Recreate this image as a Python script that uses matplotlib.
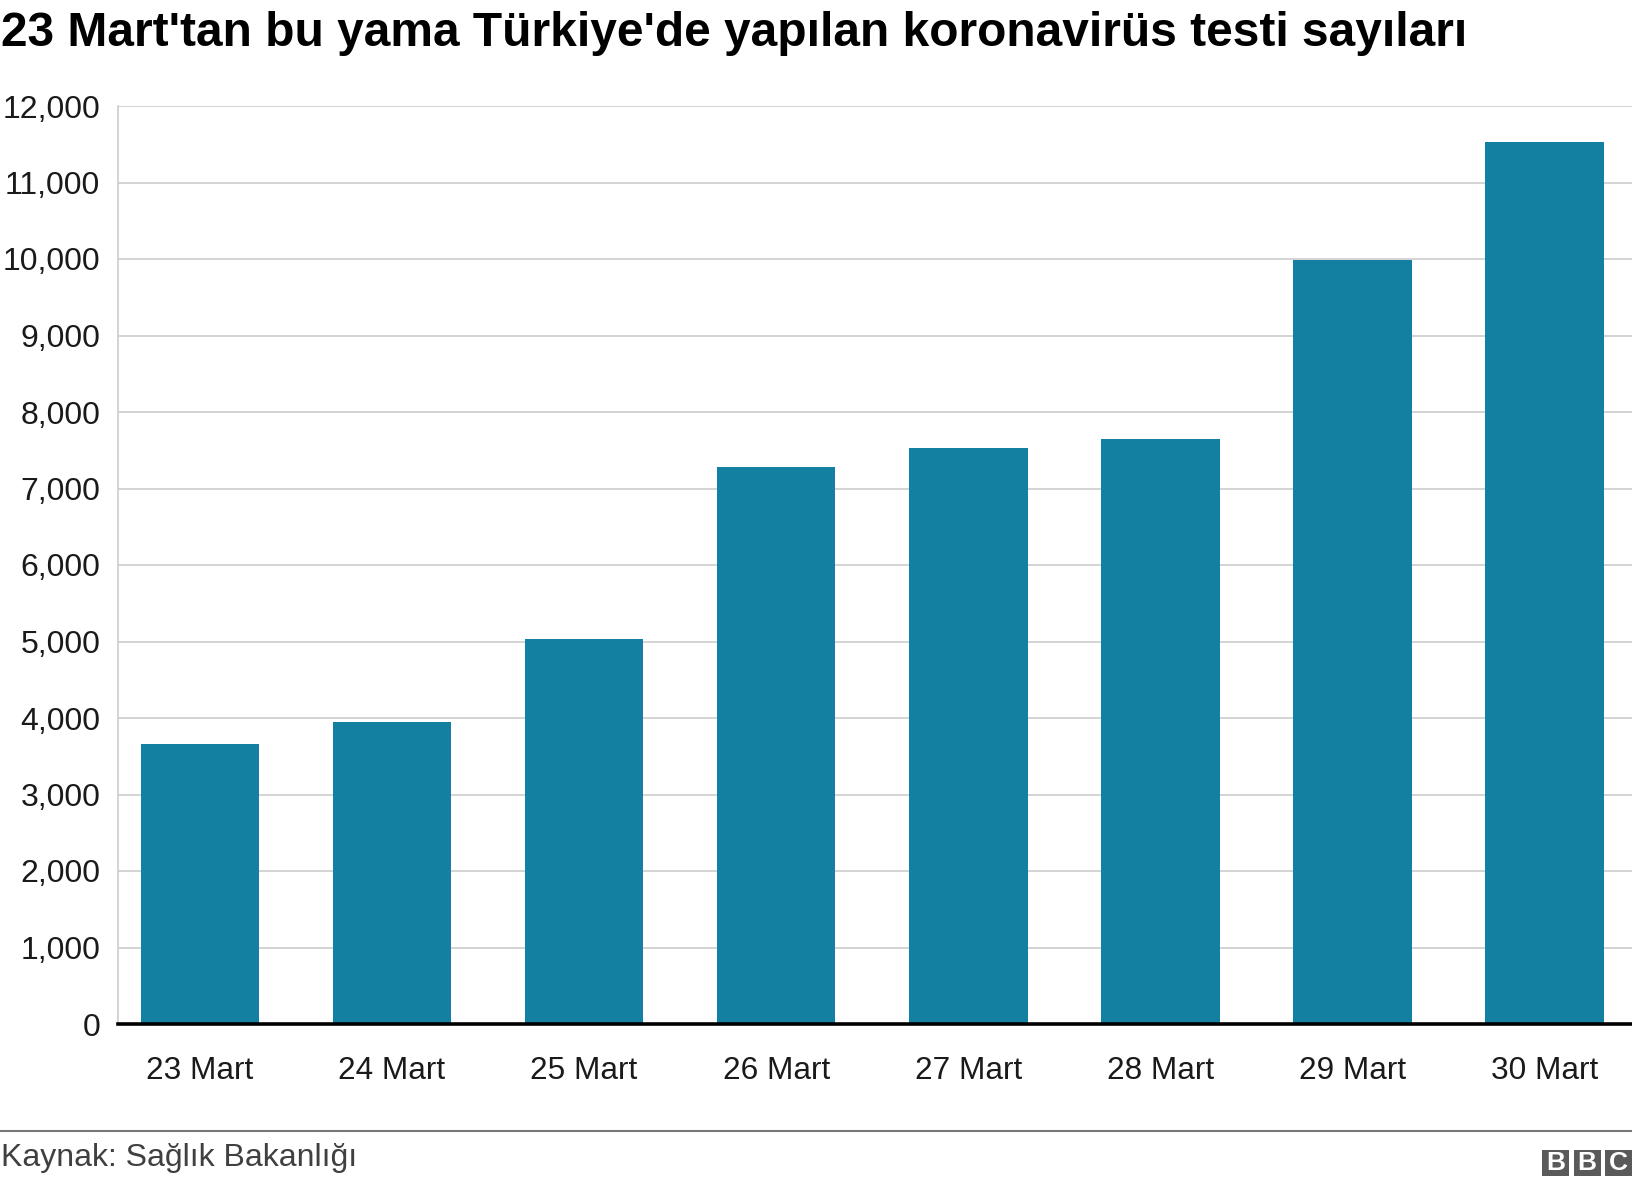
import matplotlib.pyplot as plt
from matplotlib.patches import Rectangle
from matplotlib.lines import Line2D
from matplotlib.ticker import FuncFormatter

# 23-30 Mart test sayıları
days = ["23 Mart", "24 Mart", "25 Mart", "26 Mart", "27 Mart", "28 Mart", "29 Mart", "30 Mart"]
tests = [3656, 3952, 5035, 7286, 7533, 7641, 9982, 11535]
yticks = [0, 1000, 2000, 3000, 4000, 5000, 6000, 7000, 8000, 9000, 10000, 11000, 12000]

title = "23 Mart'tan bu yama Türkiye'de yapılan koronavirüs testi sayıları"
source = "Kaynak: Sağlık Bakanlığı"

W, H = 1632, 1186
plt.rcParams['font.family'] = ['Liberation Sans', 'DejaVu Sans']

fig = plt.figure(figsize=(W / 100, H / 100), dpi=100)
ax = fig.add_axes([117.6 / W, 1 - 1024 / H, 1 - 117.6 / W, (1024 - 106) / H])

x = list(range(len(days)))
ax.bar(x, tests, width=0.617, color="#1380A1", zorder=2)

ax.set_ylim(0, 12000)
ax.set_xlim(-0.428, 7.455)
ax.set_yticks(yticks)
ax.yaxis.set_major_formatter(FuncFormatter(lambda v, p: f"{int(v):,}"))
ax.set_xticks(x)
ax.set_xticklabels(days)

size = 23
ax.tick_params(axis='y', length=0, pad=12.5, labelsize=size, labelcolor="#1a1a1a")
ax.tick_params(axis='x', length=0, pad=23, labelsize=22.7, labelcolor="#1a1a1a")
ax.grid(axis='y', color="#cccccc", linewidth=1.2, zorder=0)
ax.grid(axis='x', visible=False)

for s in ["top", "right", "bottom"]:
    ax.spines[s].set_visible(False)
ax.spines["left"].set_color("#cccccc")
ax.spines["left"].set_linewidth(1.2)
ax.axhline(0, color="black", linewidth=2.6, zorder=3, clip_on=False)

# 标题
fig.text(0.0008, 1 - 46 / H, title, fontsize=34.5, fontweight="bold", ha="left", va="baseline", color="black")

# 底部来源和标志
fig.add_artist(Line2D([0, 1], [1 - 1131 / H] * 2, color="#777777", linewidth=1.5))
fig.text(0.0008, 1 - 1166 / H, source, fontsize=23, color="#404040", ha="left", va="baseline")

for i, letter in enumerate("BBC"):
    x0 = (1542 + i * 31.5) / W
    y0 = 1 - 1176 / H
    fig.add_artist(Rectangle((x0, y0), 27 / W, 26 / H, transform=fig.transFigure,
                             facecolor="#5a5a5a", edgecolor="none"))
    fig.text(x0 + 13.5 / W, y0 + 12.5 / H, letter, color="white", fontsize=19, fontweight="bold",
             ha="center", va="center")

fig.savefig("out.png", dpi=100)
